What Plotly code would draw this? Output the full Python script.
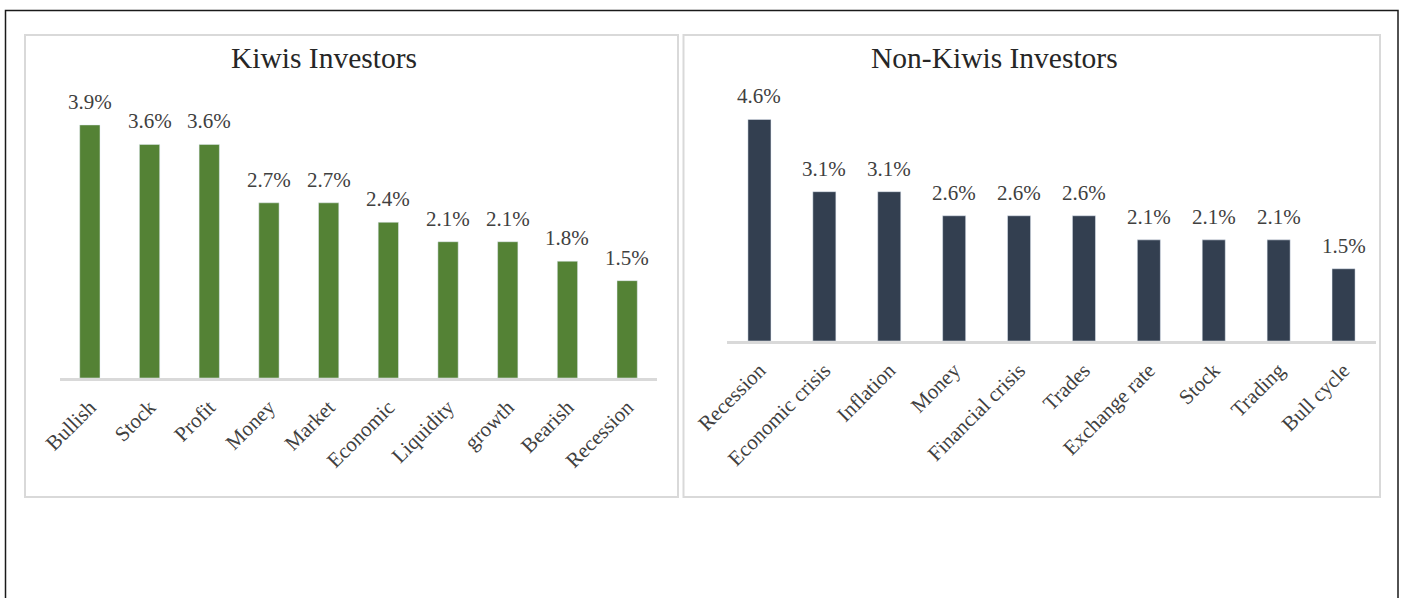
import plotly.graph_objects as go

# Word frequencies (% of terms) by investor group
kiwi_terms = ["Bullish", "Stock", "Profit", "Money", "Market", "Economic",
              "Liquidity", "growth", "Bearish", "Recession"]
kiwi_share = [3.9, 3.6, 3.6, 2.7, 2.7, 2.4, 2.1, 2.1, 1.8, 1.5]

non_kiwi_terms = ["Recession", "Economic crisis", "Inflation", "Money",
                  "Financial crisis", "Trades", "Exchange rate", "Stock",
                  "Trading", "Bull cycle"]
non_kiwi_share = [4.6, 3.1, 3.1, 2.6, 2.6, 2.6, 2.1, 2.1, 2.1, 1.5]

titles = ["Kiwis Investors", "Non-Kiwis Investors"]

W, H = 1404, 598
SERIF = "Liberation Serif, Times New Roman, serif"
TEXT = "#404040"
GREEN = "#548235"
NAVY = "#333F50"
GRID = "#D9D9D9"


def px_x(v):
    return v / W


def px_y(v):
    return 1 - v / H


fig = go.Figure()

fig.add_trace(go.Bar(
    x=kiwi_terms, y=kiwi_share, marker_color=GREEN, width=0.34,
    xaxis="x", yaxis="y", showlegend=False, hoverinfo="x+y",
))
fig.add_trace(go.Bar(
    x=non_kiwi_terms, y=non_kiwi_share, marker_color=NAVY, width=0.355,
    xaxis="x2", yaxis="y2", showlegend=False, hoverinfo="x+y",
))

xcommon = dict(showline=True, linecolor=GRID, linewidth=2.5, ticks="",
               showgrid=False, zeroline=False, tickangle=-45,
               automargin=False, ticklabelstandoff=6,
               tickfont=dict(family=SERIF, size=21, color=TEXT),
               fixedrange=True)
ycommon = dict(visible=False, showgrid=False, zeroline=False,
               automargin=False, fixedrange=True)

# left chart: baseline at 378px, 3.9% reaches 125px
fig.update_layout(
    xaxis=dict(domain=[px_x(60), px_x(657)], anchor="y",
               range=[-0.5, 9.5], **xcommon),
    yaxis=dict(domain=[px_y(378), px_y(86)], anchor="x",
               range=[0, 4.5], **ycommon),
    xaxis2=dict(domain=[px_x(727), px_x(1376)], anchor="y2",
                range=[-0.5, 9.5], **xcommon),
    yaxis2=dict(domain=[px_y(341), px_y(100.2)], anchor="x2",
                range=[0, 5], **ycommon),
)

shapes = [
    # page frame
    dict(type="rect", xref="paper", yref="paper",
         x0=px_x(5.5), x1=px_x(1398), y0=px_y(10.5), y1=-0.1,
         line=dict(color="#1a1a1a", width=1.5)),
    # chart panels
    dict(type="rect", xref="paper", yref="paper",
         x0=px_x(25), x1=px_x(678), y0=px_y(35), y1=px_y(497),
         line=dict(color=GRID, width=2)),
    dict(type="rect", xref="paper", yref="paper",
         x0=px_x(683.5), x1=px_x(1380), y0=px_y(35), y1=px_y(497),
         line=dict(color=GRID, width=2)),
]

annotations = [
    dict(text=titles[0], x=px_x(323.5), y=px_y(58), xref="paper", yref="paper",
         showarrow=False, xanchor="center", yanchor="middle",
         font=dict(family=SERIF, size=29.5, color="#262626")),
    dict(text=titles[1], x=px_x(994.5), y=px_y(58), xref="paper", yref="paper",
         showarrow=False, xanchor="center", yanchor="middle",
         font=dict(family=SERIF, size=29.5, color="#262626")),
]

# value labels above each bar
for terms, shares, xr, yr in [(kiwi_terms, kiwi_share, "x", "y"),
                              (non_kiwi_terms, non_kiwi_share, "x2", "y2")]:
    for t, v in zip(terms, shares):
        annotations.append(dict(
            text=f"{v:.1f}%", x=t, y=v, xref=xr, yref=yr,
            showarrow=False, xanchor="center", yanchor="bottom", yshift=9,
            font=dict(family=SERIF, size=21, color=TEXT),
        ))

fig.update_layout(
    width=W, height=H,
    margin=dict(l=0, r=0, t=0, b=0, autoexpand=False),
    paper_bgcolor="white", plot_bgcolor="white",
    shapes=shapes, annotations=annotations,
    bargap=0.65,
)

fig.write_html("out.html")
